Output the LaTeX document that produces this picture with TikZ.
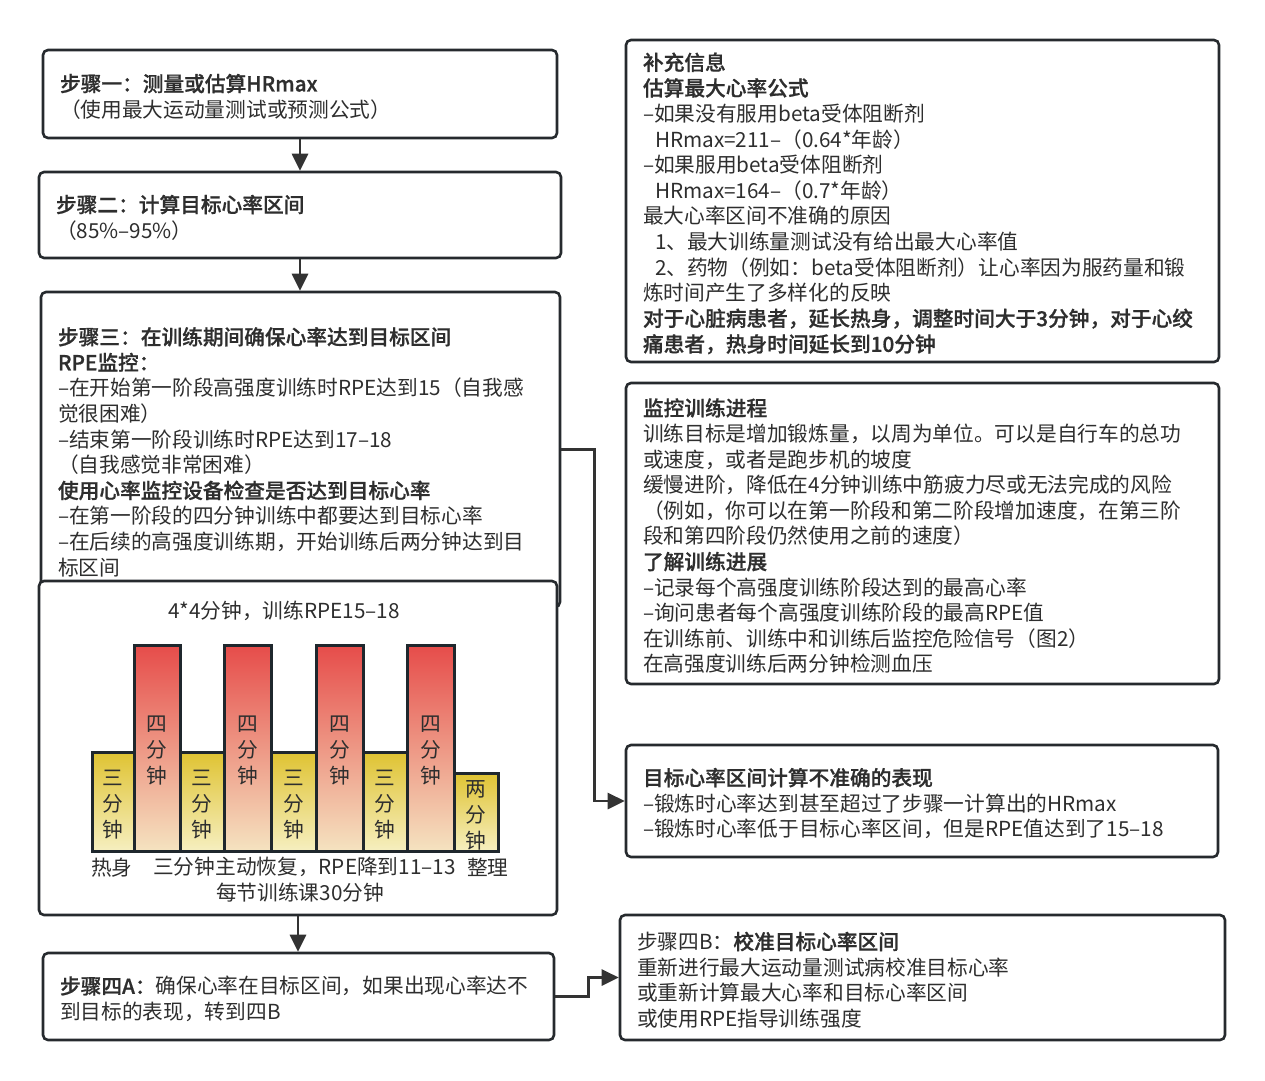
\documentclass[tikz,border=0pt]{standalone}
\usepackage{fontspec}
\setmainfont{Noto Sans CJK SC}[BoldFont={Noto Sans CJK SC Medium},BoldFeatures={FakeBold=0.8}]
\usetikzlibrary{arrows.meta}

\definecolor{boxline}{HTML}{262A2E}
\definecolor{arrline}{HTML}{333333}
\definecolor{txt}{HTML}{2E2E2E}
\definecolor{redtop}{HTML}{E64C4A}
\definecolor{redbot}{HTML}{F5E3C0}
\definecolor{yeltop}{HTML}{DFC332}
\definecolor{yelbot}{HTML}{F6EFC0}
\definecolor{barline}{HTML}{1F272D}

\tikzset{
    box/.style={draw=boxline, line width=2.6pt, rounded corners=5pt, fill=white,
        align=left, inner xsep=17pt, inner ysep=0pt, text=txt,
        font=\fontsize{20.7}{25.6}\selectfont,
        execute at begin node={\rule{0pt}{22.5pt}}},
    flow/.style={draw=arrline, line width=2.8pt, -{Triangle[length=17pt,width=16pt]}},
    lbl/.style={text=txt, inner sep=0pt, font=\fontsize{20.7}{25.6}\selectfont,
        execute at begin node={\rule{0pt}{22pt}}},
    bar/.style={draw=barline, line width=3pt, inner sep=0pt},
    redbar/.style={bar, top color=redtop, bottom color=redbot},
    yelbar/.style={bar, top color=yeltop, bottom color=yelbot},
    bartext/.style={text=txt, inner sep=0pt, align=center,
        font=\fontsize{20.7}{26}\selectfont},
}

\begin{document}
\begin{tikzpicture}[x=1pt,y=-1pt]
    \useasboundingbox (0,0) rectangle (1265,1080);

    % left column
    \node[box, text width=480pt, minimum height=88pt] (s1) at (300,94)
        {\textbf{步骤一：测量或估算HRmax}\\（使用最大运动量测试或预测公式）};
    \node[box, text width=488pt, minimum height=86pt] (s2) at (300,215)
        {\textbf{步骤二：计算目标心率区间}\\（85\%–95\%）};
    \node[box, text width=485pt, minimum height=315pt] (s3) at (300.5,449.5)
        {\textbf{步骤三：在训练期间确保心率达到目标区间}\\
         \textbf{RPE监控：}\\
         –在开始第一阶段高强度训练时RPE达到15（自我感\\
         觉很困难）\\
         –结束第一阶段训练时RPE达到17–18\\
         （自我感觉非常困难）\\
         \textbf{使用心率监控设备检查是否达到目标心率}\\
         –在第一阶段的四分钟训练中都要达到目标心率\\
         –在后续的高强度训练期，开始训练后两分钟达到目\\
         标区间};

    % chart of one session
    \node[box, minimum width=518pt, minimum height=334pt, inner sep=0pt,
        execute at begin node={}] (chart) at (298,748) {};
    \node[lbl] (title) at (284,609) {4*4分钟，训练RPE15–18};
    \foreach \l/\r/\t/\c/\s [count=\i] in {92/134/752/yelbar/三, 134/180/645/redbar/四,
        180/224/752/yelbar/三, 224/271/645/redbar/四, 271/316/752/yelbar/三,
        316/363/645/redbar/四, 363/407/752/yelbar/三, 407/454/645/redbar/四,
        454/498/773/yelbar/两}
    {
        \node[\c, minimum width={\r-\l}, minimum height={851-\t}] (bar\i)
            at ({(\l+\r)/2},{(\t+851)/2}) {};
        \node[bartext] (bartxt\i) at ([yshift=-3pt]bar\i.center) {\s\\分\\钟};
    }
    \node[lbl, anchor=west] (warm) at (91,865) {热身};
    \node[lbl, anchor=west] (rec) at (153,865) {三分钟主动恢复，RPE降到11–13};
    \node[lbl, anchor=west] (cool) at (467,865) {整理};
    \node[lbl] (total) at (300,890) {每节训练课30分钟};

    \node[box, text width=477pt, minimum height=87pt] (s4a) at (298.5,996.5)
        {\textbf{步骤四A：}确保心率在目标区间，如果出现心率达不\\到目标的表现，转到四B};

    % right column
    \node[box, text width=559pt, minimum height=322pt] (info) at (922.5,201)
        {\textbf{补充信息}\\
         \textbf{估算最大心率公式}\\
         –如果没有服用beta受体阻断剂\\
         \hspace*{12pt}HRmax=211–（0.64*年龄）\\
         –如果服用beta受体阻断剂\\
         \hspace*{12pt}HRmax=164–（0.7*年龄）\\
         最大心率区间不准确的原因\\
         \hspace*{12pt}1、最大训练量测试没有给出最大心率值\\
         \hspace*{12pt}2、药物（例如：beta受体阻断剂）让心率因为服药量和锻\\
         炼时间产生了多样化的反映\\
         \textbf{对于心脏病患者，延长热身，调整时间大于3分钟，对于心绞}\\
         \textbf{痛患者，热身时间延长到10分钟}};
    \node[box, text width=559pt, minimum height=301pt] (mon) at (922.5,533.5)
        {\textbf{监控训练进程}\\
         训练目标是增加锻炼量，以周为单位。可以是自行车的总功\\
         或速度，或者是跑步机的坡度\\
         缓慢进阶，降低在4分钟训练中筋疲力尽或无法完成的风险\\
         （例如，你可以在第一阶段和第二阶段增加速度，在第三阶\\
         段和第四阶段仍然使用之前的速度）\\
         \textbf{了解训练进展}\\
         –记录每个高强度训练阶段达到的最高心率\\
         –询问患者每个高强度训练阶段的最高RPE值\\
         在训练前、训练中和训练后监控危险信号（图2）\\
         在高强度训练后两分钟检测血压};
    \node[box, text width=558pt, minimum height=112pt] (inac) at (922,801)
        {\textbf{目标心率区间计算不准确的表现}\\
         –锻炼时心率达到甚至超过了步骤一计算出的HRmax\\
         –锻炼时心率低于目标心率区间，但是RPE值达到了15–18};
    \node[box, text width=571pt, minimum height=125pt] (s4b) at (922.5,977.5)
        {步骤四B：\textbf{校准目标心率区间}\\
         重新进行最大运动量测试病校准目标心率\\
         或重新计算最大心率和目标心率区间\\
         或使用RPE指导训练强度};

    % connectors
    \draw[flow] (s1.south) -- (s1.south |- s2.north);
    \draw[flow] (s2.south) -- (s2.south |- s3.north);
    \draw[flow] (chart.south) -- (chart.south |- s4a.north);
    \draw[flow] (s3.east) -- ++(33,0) |- (inac.west);
    \draw[flow] (s4a.east) -- ++(33,0) |- (s4b.west);
\end{tikzpicture}
\end{document}
